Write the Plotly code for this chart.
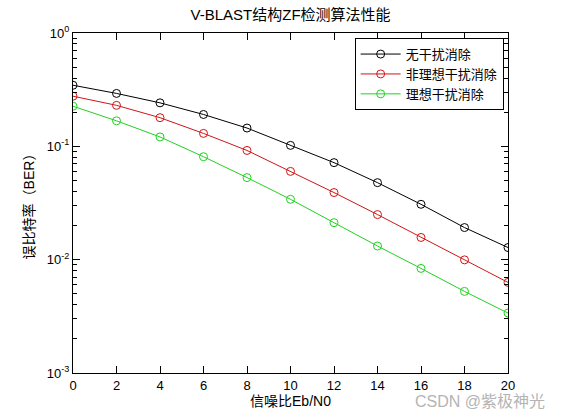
import plotly.graph_objects as go

# Eb/N0 (dB)
snr = [0, 2, 4, 6, 8, 10, 12, 14, 16, 18, 20]

# BER values
ber_no_cancel = [0.346, 0.293, 0.242, 0.191, 0.145, 0.102, 0.0718, 0.0478, 0.0308, 0.0192, 0.0128]
ber_nonideal = [0.277, 0.230, 0.179, 0.130, 0.092, 0.0601, 0.0391, 0.0250, 0.0157, 0.00996, 0.0063]
ber_ideal = [0.226, 0.168, 0.121, 0.081, 0.053, 0.0341, 0.0212, 0.0132, 0.00837, 0.00525, 0.00338]

names = ['无干扰消除', '非理想干扰消除', '理想干扰消除']
colors = ['#000000', '#d01515', '#22d022']

y_ticks = [1, 0.1, 0.01, 0.001]
y_ticktext = ['10<sup>0</sup>', '10<sup>-1</sup>', '10<sup>-2</sup>', '10<sup>-3</sup>']
# log minor ticks 2..9 in each decade
y_minor = [m * 10.0 ** e for e in (-3, -2, -1) for m in range(2, 10)]

FONT = 'Liberation Sans, Noto Sans CJK SC, sans-serif'

fig = go.Figure()
for ys, name, c in zip([ber_no_cancel, ber_nonideal, ber_ideal], names, colors):
    fig.add_trace(go.Scatter(
        x=snr, y=ys, name=name, mode='lines+markers',
        line=dict(color=c, width=1),
        marker=dict(symbol='circle-open', size=8, color=c, line=dict(width=1, color=c)),
    ))

fig.update_layout(
    template='none',
    width=561, height=420,
    margin=dict(l=73, r=53, t=33, b=47),
    paper_bgcolor='white', plot_bgcolor='white',
    font=dict(family=FONT, size=12, color='black'),
    title=dict(text='V-BLAST结构ZF检测算法性能', x=0.518, xanchor='center',
               y=0.965, yanchor='middle', font=dict(size=15)),
    legend=dict(x=0.99, y=0.985, xanchor='right', yanchor='top',
                bgcolor='white', bordercolor='black', borderwidth=1,
                font=dict(size=13), tracegroupgap=0, itemwidth=40),
    showlegend=True,
    xaxis=dict(
        range=[0, 20], tickmode='linear', dtick=2, tick0=0,
        showline=True, linecolor='black', linewidth=1, mirror='ticks',
        ticks='inside', ticklen=7, tickwidth=1, tickcolor='black',
        showgrid=False, zeroline=False, layer='above traces',
        tickfont=dict(size=13),
        title=dict(text='信噪比Eb/N0', font=dict(size=14), standoff=4),
    ),
    yaxis=dict(
        type='log', range=[-3, 0],
        tickmode='array', tickvals=y_ticks, ticktext=y_ticktext,
        showline=True, linecolor='black', linewidth=1, mirror='ticks',
        ticks='inside', ticklen=7, tickwidth=1, tickcolor='black',
        minor=dict(tickmode='array', tickvals=y_minor, ticks='inside', ticklen=4,
                   tickwidth=1, tickcolor='black', showgrid=False),
        showgrid=False, zeroline=False, layer='above traces',
        tickfont=dict(size=13),
        title=dict(text='误比特率（BER）', font=dict(size=14), standoff=8),
    ),
)

# watermark from the source image
fig.add_annotation(text='CSDN @紫极神光', xref='paper', yref='paper',
                   x=1.09, y=-0.085, xanchor='right', yanchor='middle',
                   showarrow=False, font=dict(size=16, color='#b4b4b4'))

# drop the page's default body margin so the figure sits at the window origin
fig.write_html('out.html', config={'displayModeBar': False},
               post_script="document.body.style.margin='0px';")
